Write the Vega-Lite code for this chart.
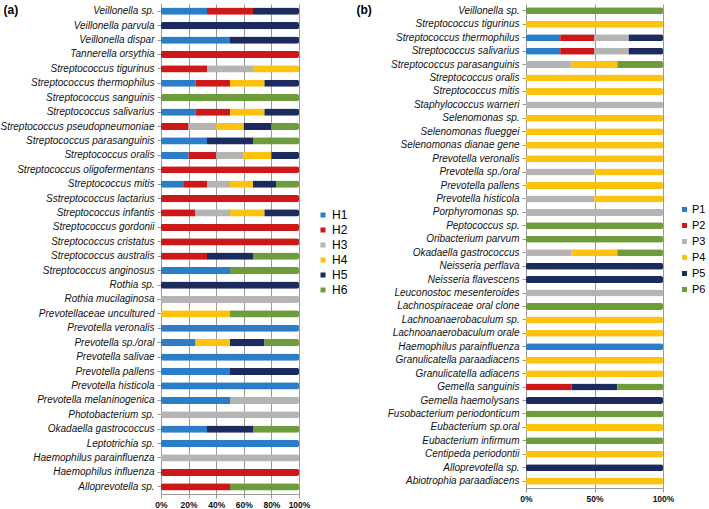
{
  "$schema": "https://vega.github.io/schema/vega-lite/v6.json",
  "padding": {"left": 0, "top": 3, "right": 0, "bottom": 0},
  "spacing": 8,
  "background": "white",
  "config": {
    "view": {"stroke": null},
    "font": "Liberation Sans",
    "axis": {"labelColor": "#111", "domainColor": "#999", "tickColor": "#999", "gridColor": "#9a9a9a"}
  },
  "datasets": {
    "a": [
      {"s": "Veillonella sp.", "g": "H1", "v": 1}, {"s": "Veillonella sp.", "g": "H2", "v": 1}, {"s": "Veillonella sp.", "g": "H5", "v": 1},
      {"s": "Veillonella parvula", "g": "H5", "v": 1},
      {"s": "Veillonella dispar", "g": "H1", "v": 1}, {"s": "Veillonella dispar", "g": "H5", "v": 1},
      {"s": "Tannerella orsythia", "g": "H2", "v": 1},
      {"s": "Streptococcus tigurinus", "g": "H2", "v": 1}, {"s": "Streptococcus tigurinus", "g": "H3", "v": 1}, {"s": "Streptococcus tigurinus", "g": "H4", "v": 1},
      {"s": "Streptococcus thermophilus", "g": "H1", "v": 1}, {"s": "Streptococcus thermophilus", "g": "H2", "v": 1}, {"s": "Streptococcus thermophilus", "g": "H4", "v": 1}, {"s": "Streptococcus thermophilus", "g": "H5", "v": 1},
      {"s": "Streptococcus sanguinis", "g": "H6", "v": 1},
      {"s": "Streptococcus salivarius", "g": "H1", "v": 1}, {"s": "Streptococcus salivarius", "g": "H2", "v": 1}, {"s": "Streptococcus salivarius", "g": "H4", "v": 1}, {"s": "Streptococcus salivarius", "g": "H5", "v": 1},
      {"s": "Streptococcus pseudopneumoniae", "g": "H2", "v": 1}, {"s": "Streptococcus pseudopneumoniae", "g": "H3", "v": 1}, {"s": "Streptococcus pseudopneumoniae", "g": "H4", "v": 1}, {"s": "Streptococcus pseudopneumoniae", "g": "H5", "v": 1}, {"s": "Streptococcus pseudopneumoniae", "g": "H6", "v": 1},
      {"s": "Streptococcus parasanguinis", "g": "H1", "v": 1}, {"s": "Streptococcus parasanguinis", "g": "H5", "v": 1}, {"s": "Streptococcus parasanguinis", "g": "H6", "v": 1},
      {"s": "Streptococcus oralis", "g": "H1", "v": 1}, {"s": "Streptococcus oralis", "g": "H2", "v": 1}, {"s": "Streptococcus oralis", "g": "H3", "v": 1}, {"s": "Streptococcus oralis", "g": "H4", "v": 1}, {"s": "Streptococcus oralis", "g": "H5", "v": 1},
      {"s": "Streptococcus oligofermentans", "g": "H2", "v": 1},
      {"s": "Streptococcus mitis", "g": "H1", "v": 1}, {"s": "Streptococcus mitis", "g": "H2", "v": 1}, {"s": "Streptococcus mitis", "g": "H3", "v": 1}, {"s": "Streptococcus mitis", "g": "H4", "v": 1}, {"s": "Streptococcus mitis", "g": "H5", "v": 1}, {"s": "Streptococcus mitis", "g": "H6", "v": 1},
      {"s": "Sstreptococcus lactarius", "g": "H2", "v": 1},
      {"s": "Streptococcus infantis", "g": "H2", "v": 1}, {"s": "Streptococcus infantis", "g": "H3", "v": 1}, {"s": "Streptococcus infantis", "g": "H4", "v": 1}, {"s": "Streptococcus infantis", "g": "H5", "v": 1},
      {"s": "Streptococcus gordonii", "g": "H2", "v": 1},
      {"s": "Streptococcus cristatus", "g": "H2", "v": 1},
      {"s": "Streptococcus australis", "g": "H2", "v": 1}, {"s": "Streptococcus australis", "g": "H5", "v": 1}, {"s": "Streptococcus australis", "g": "H6", "v": 1},
      {"s": "Streptococcus anginosus", "g": "H1", "v": 1}, {"s": "Streptococcus anginosus", "g": "H6", "v": 1},
      {"s": "Rothia sp.", "g": "H5", "v": 1},
      {"s": "Rothia mucilaginosa", "g": "H3", "v": 1},
      {"s": "Prevotellaceae uncultured", "g": "H4", "v": 1}, {"s": "Prevotellaceae uncultured", "g": "H6", "v": 1},
      {"s": "Prevotella veronalis", "g": "H1", "v": 1},
      {"s": "Prevotella sp./oral", "g": "H1", "v": 1}, {"s": "Prevotella sp./oral", "g": "H4", "v": 1}, {"s": "Prevotella sp./oral", "g": "H5", "v": 1}, {"s": "Prevotella sp./oral", "g": "H6", "v": 1},
      {"s": "Prevotella salivae", "g": "H1", "v": 1},
      {"s": "Prevotella pallens", "g": "H1", "v": 1}, {"s": "Prevotella pallens", "g": "H5", "v": 1},
      {"s": "Prevotella histicola", "g": "H1", "v": 1},
      {"s": "Prevotella melaninogenica", "g": "H1", "v": 1}, {"s": "Prevotella melaninogenica", "g": "H3", "v": 1},
      {"s": "Photobacterium sp.", "g": "H3", "v": 1},
      {"s": "Okadaella gastrococcus", "g": "H1", "v": 1}, {"s": "Okadaella gastrococcus", "g": "H5", "v": 1}, {"s": "Okadaella gastrococcus", "g": "H6", "v": 1},
      {"s": "Leptotrichia sp.", "g": "H1", "v": 1},
      {"s": "Haemophilus parainfluenza", "g": "H3", "v": 1},
      {"s": "Haemophilus influenza", "g": "H2", "v": 1},
      {"s": "Alloprevotella sp.", "g": "H2", "v": 1}, {"s": "Alloprevotella sp.", "g": "H6", "v": 1}
    ],
    "b": [
      {"s": "Veillonella sp.", "g": "P6", "v": 1},
      {"s": "Streptococcus tigurinus", "g": "P4", "v": 1},
      {"s": "Streptococcus thermophilus", "g": "P1", "v": 1}, {"s": "Streptococcus thermophilus", "g": "P2", "v": 1}, {"s": "Streptococcus thermophilus", "g": "P3", "v": 1}, {"s": "Streptococcus thermophilus", "g": "P5", "v": 1},
      {"s": "Streptococcus salivarius", "g": "P1", "v": 1}, {"s": "Streptococcus salivarius", "g": "P2", "v": 1}, {"s": "Streptococcus salivarius", "g": "P3", "v": 1}, {"s": "Streptococcus salivarius", "g": "P5", "v": 1},
      {"s": "Streptococcus  parasanguinis", "g": "P3", "v": 1}, {"s": "Streptococcus  parasanguinis", "g": "P4", "v": 1}, {"s": "Streptococcus  parasanguinis", "g": "P6", "v": 1},
      {"s": "Streptococcus oralis", "g": "P4", "v": 1},
      {"s": "Streptococcus mitis", "g": "P4", "v": 1},
      {"s": "Staphylococcus warneri", "g": "P3", "v": 1},
      {"s": "Selenomonas sp.", "g": "P4", "v": 1},
      {"s": "Selenomonas flueggei", "g": "P4", "v": 1},
      {"s": "Selenomonas dianae gene", "g": "P4", "v": 1},
      {"s": "Prevotella veronalis", "g": "P4", "v": 1},
      {"s": "Prevotella sp./oral", "g": "P3", "v": 1}, {"s": "Prevotella sp./oral", "g": "P4", "v": 1},
      {"s": "Prevotella pallens", "g": "P4", "v": 1},
      {"s": "Prevotella histicola", "g": "P3", "v": 1}, {"s": "Prevotella histicola", "g": "P4", "v": 1},
      {"s": "Porphyromonas sp.", "g": "P3", "v": 1},
      {"s": "Peptococcus sp.", "g": "P6", "v": 1},
      {"s": "Oribacterium parvum", "g": "P6", "v": 1},
      {"s": "Okadaella gastrococcus", "g": "P3", "v": 1}, {"s": "Okadaella gastrococcus", "g": "P4", "v": 1}, {"s": "Okadaella gastrococcus", "g": "P6", "v": 1},
      {"s": "Neisseria perflava", "g": "P5", "v": 1},
      {"s": "Neisseria flavescens", "g": "P5", "v": 1},
      {"s": "Leuconostoc mesenteroides", "g": "P3", "v": 1},
      {"s": "Lachnospiraceae oral clone", "g": "P6", "v": 1},
      {"s": "Lachnoanaerobaculum sp.", "g": "P4", "v": 1},
      {"s": "Lachnoanaerobaculum orale", "g": "P4", "v": 1},
      {"s": "Haemophilus parainfluenza", "g": "P1", "v": 1},
      {"s": "Granulicatella paraadiacens", "g": "P4", "v": 1},
      {"s": "Granulicatella adiacens", "g": "P4", "v": 1},
      {"s": "Gemella sanguinis", "g": "P2", "v": 1}, {"s": "Gemella sanguinis", "g": "P5", "v": 1}, {"s": "Gemella sanguinis", "g": "P6", "v": 1},
      {"s": "Gemella haemolysans", "g": "P5", "v": 1},
      {"s": "Fusobacterium periodonticum", "g": "P6", "v": 1},
      {"s": "Eubacterium sp.oral", "g": "P4", "v": 1},
      {"s": "Eubacterium infirmum", "g": "P6", "v": 1},
      {"s": "Centipeda periodontii", "g": "P4", "v": 1},
      {"s": "Alloprevotella sp.", "g": "P5", "v": 1},
      {"s": "Abiotrophia paraadiacens", "g": "P4", "v": 1}
    ]
  },
  "hconcat": [
    {
      "data": {"name": "a"},
      "width": 138,
      "height": 490,
      "mark": {"type": "bar", "cornerRadius": 2},
      "encoding": {
        "y": {
          "field": "s", "type": "nominal", "sort": null,
          "scale": {"paddingInner": 0.5, "paddingOuter": 0.25},
          "axis": {
            "title": "(a)", "titleAngle": 0, "titleX": -158, "titleY": 0,
            "titleAlign": "left", "titleBaseline": "top", "titleFontWeight": "bold", "titleFontSize": 12,
            "labelFontStyle": "italic", "labelFontSize": 10, "labelPadding": 3, "tickSize": 4, "labelLimit": 0
          }
        },
        "x": {
          "field": "v", "type": "quantitative", "stack": "normalize",
          "axis": {
            "title": null, "format": ".0%", "values": [0, 0.2, 0.4, 0.6, 0.8, 1],
            "labelFontSize": 8.5, "labelFontWeight": "bold", "tickSize": 4, "labelFlush": false
          }
        },
        "color": {
          "field": "g", "type": "nominal",
          "scale": {"domain": ["H1", "H2", "H3", "H4", "H5", "H6"], "range": ["#2a7dc6", "#cc1818", "#b4b4b4", "#fdc20e", "#1c2b5e", "#6e9b3c"]},
          "legend": {"orient": "none", "legendX": 156, "legendY": 205, "title": null, "symbolType": "square", "symbolSize": 25, "labelFontSize": 12, "rowPadding": 3, "labelOffset": 3}
        },
        "order": {"field": "g", "sort": "ascending"}
      }
    },
    {
      "data": {"name": "b"},
      "width": 137,
      "height": 484,
      "mark": {"type": "bar", "cornerRadius": 2},
      "encoding": {
        "y": {
          "field": "s", "type": "nominal", "sort": null,
          "scale": {"paddingInner": 0.48, "paddingOuter": 0.25},
          "axis": {
            "title": "(b)", "titleAngle": 0, "titleX": -170, "titleY": 0,
            "titleAlign": "left", "titleBaseline": "top", "titleFontWeight": "bold", "titleFontSize": 12,
            "labelFontStyle": "italic", "labelFontSize": 10, "labelPadding": 3, "tickSize": 4, "labelLimit": 0
          }
        },
        "x": {
          "field": "v", "type": "quantitative", "stack": "normalize",
          "axis": {
            "title": null, "format": ".0%", "values": [0, 0.5, 1],
            "labelFontSize": 8.5, "labelFontWeight": "bold", "tickSize": 4, "labelFlush": false
          }
        },
        "color": {
          "field": "g", "type": "nominal",
          "scale": {"domain": ["P1", "P2", "P3", "P4", "P5", "P6"], "range": ["#2a7dc6", "#cc1818", "#b4b4b4", "#fdc20e", "#1c2b5e", "#6e9b3c"]},
          "legend": {"orient": "none", "legendX": 153, "legendY": 200, "title": null, "symbolType": "square", "symbolSize": 25, "labelFontSize": 11, "rowPadding": 4, "labelOffset": 2}
        },
        "order": {"field": "g", "sort": "ascending"}
      }
    }
  ],
  "resolve": {"scale": {"color": "independent", "x": "independent", "y": "independent"}, "legend": {"color": "independent"}}
}
